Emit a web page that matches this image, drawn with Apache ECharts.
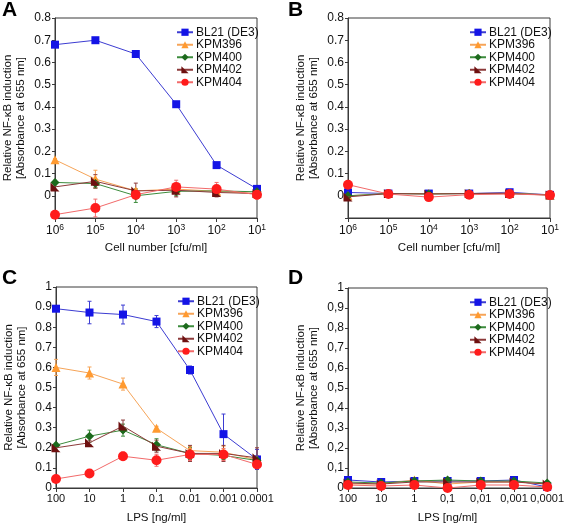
<!DOCTYPE html>
<html>
<head>
<meta charset="utf-8">
<script src="https://cdn.jsdelivr.net/npm/echarts@6/dist/echarts.min.js"></script>
<style>
html,body{margin:0;padding:0;background:#fff;}
#chart{width:567px;height:526px;}
</style>
</head>
<body>
<div id="chart"></div>
<script>
// ---------- data ----------
var seriesNames = ['BL21 (DE3)', 'KPM396', 'KPM400', 'KPM402', 'KPM404'];
var cellExponents = ['6', '5', '4', '3', '2', '1'];
var lpsLabelsC = ['100', '10', '1', '0.1', '0.01', '0.001', '0.0001'];
var lpsLabelsD = ['100', '10', '1', '0,1', '0,01', '0,001', '0,0001'];

// Panel A (cell number)
var aBL21   = [0.68, 0.70, 0.638, 0.412, 0.138, 0.031];
var aKPM396 = [0.162, 0.075, 0.022, 0.030, 0.020, 0.010];
var aKPM400 = [0.060, 0.055, 0.000, 0.020, 0.022, 0.018];
var aKPM402 = [0.040, 0.065, 0.022, 0.025, 0.015, 0.010];
var aKPM404 = [-0.085, -0.055, 0.005, 0.040, 0.030, 0.005];
var aErrBL21   = [0.01, 0.01, 0.005, 0.01, 0.005, 0.005];
var aErrKPM396 = [0.005, 0.04, 0.01, 0.02, 0.02, 0.01];
var aErrKPM400 = [0.01, 0.02, 0.03, 0.02, 0.01, 0.01];
var aErrKPM402 = [0.01, 0.03, 0.035, 0.03, 0.02, 0.01];
var aErrKPM404 = [0.01, 0.04, 0.02, 0.03, 0.03, 0.02];

// Panel B (cell number)
var bBL21   = [0.015, 0.010, 0.010, 0.010, 0.016, 0.004];
var bKPM396 = [0.000, 0.010, 0.010, 0.010, 0.012, 0.004];
var bKPM400 = [0.000, 0.010, 0.008, 0.010, 0.010, 0.004];
var bKPM402 = [-0.005, 0.010, 0.008, 0.010, 0.010, 0.003];
var bKPM404 = [0.050, 0.008, -0.006, 0.005, 0.008, 0.003];

// Panel C (LPS)
var cBL21   = [0.892, 0.873, 0.863, 0.828, 0.587, 0.268, 0.142];
var cKPM396 = [0.600, 0.572, 0.517, 0.297, 0.186, 0.178, 0.140];
var cKPM400 = [0.213, 0.258, 0.288, 0.215, 0.172, 0.162, 0.137];
var cKPM402 = [0.200, 0.225, 0.308, 0.208, 0.172, 0.172, 0.150];
var cKPM404 = [0.045, 0.072, 0.158, 0.138, 0.167, 0.167, 0.117];
var cErrBL21   = [0.01, 0.056, 0.047, 0.03, 0.02, 0.10, 0.05];
var cErrKPM396 = [0.04, 0.03, 0.03, 0.01, 0.02, 0.03, 0.02];
var cErrKPM400 = [0.01, 0.03, 0.03, 0.03, 0.03, 0.02, 0.02];
var cErrKPM402 = [0.01, 0.01, 0.03, 0.03, 0.04, 0.04, 0.05];
var cErrKPM404 = [0.01, 0.01, 0.02, 0.03, 0.03, 0.03, 0.02];

// Panel D (LPS)
var dBL21   = [0.040, 0.030, 0.035, 0.035, 0.035, 0.040, 0.005];
var dKPM396 = [0.020, 0.020, 0.040, 0.020, 0.030, 0.030, 0.020];
var dKPM400 = [0.030, 0.025, 0.035, 0.040, 0.035, 0.035, 0.025];
var dKPM402 = [0.025, 0.020, 0.030, 0.030, 0.030, 0.030, 0.020];
var dKPM404 = [0.015, 0.010, 0.015, 0.000, 0.015, 0.015, 0.005];
var dErr    = [0.01, 0.01, 0.01, 0.01, 0.01, 0.01, 0.01];

// ---------- styles ----------
var FONT = 'Liberation Sans, Arial, sans-serif';
var styles = [
  {marker: '#1414e6', line: '#3c3cd2', symbol: 'rect', size: 8},
  {marker: '#ff9a30', line: '#f6a458', symbol: 'triangle', size: 9},
  {marker: '#1d6a1d', line: '#3d8c3d', symbol: 'diamond', size: 9},
  {marker: '#6e1010', line: '#8c3a3a', symbol: 'path://M0,0 L0,10 L10,10 Z', size: 9},
  {marker: '#ff1c1c', line: '#f26a6a', symbol: 'circle', size: 10}
];

var panels = [
  {data: [aBL21, aKPM396, aKPM400, aKPM402, aKPM404],
   err: [aErrBL21, aErrKPM396, aErrKPM400, aErrKPM402, aErrKPM404],
   grid: {left: 55, top: 18, width: 202, height: 200},
   ymin: -0.1, ymax: 0.8, xmax: 5, xname: 'Cell number [cfu/ml]', kind: 'cell', comma: false},
  {data: [bBL21, bKPM396, bKPM400, bKPM402, bKPM404],
   err: null,
   grid: {left: 348, top: 18, width: 202, height: 200},
   ymin: -0.1, ymax: 0.8, xmax: 5, xname: 'Cell number [cfu/ml]', kind: 'cell', comma: false},
  {data: [cBL21, cKPM396, cKPM400, cKPM402, cKPM404],
   err: [cErrBL21, cErrKPM396, cErrKPM400, cErrKPM402, cErrKPM404],
   grid: {left: 56, top: 287, width: 201, height: 201},
   ymin: 0, ymax: 1, xmax: 6, xname: 'LPS [ng/ml]', kind: 'lps', labels: lpsLabelsC, comma: false},
  {data: [dBL21, dKPM396, dKPM400, dKPM402, dKPM404],
   err: [dErr, dErr, dErr, dErr, dErr],
   grid: {left: 348, top: 288, width: 202, height: 200},
   ymin: 0, ymax: 1, xmax: 6, xname: 'LPS [ng/ml]', kind: 'lps', labels: lpsLabelsD, comma: true}
];

var grids = [], xAxes = [], yAxes = [], series = [], legends = [];
var axisColor = '#3a3a3a';

panels.forEach(function (p, pi) {
  grids.push(Object.assign({show: true, borderColor: axisColor, borderWidth: 1, backgroundColor: 'transparent'}, p.grid));
  xAxes.push({
    gridIndex: pi, type: 'value', min: 0, max: p.xmax, interval: 1,
    position: 'bottom',
    axisLine: {onZero: false, lineStyle: {color: axisColor, width: 1}},
    axisTick: {show: true, inside: false, length: 4, lineStyle: {color: axisColor}},
    splitLine: {show: false},
    axisLabel: {
      color: '#111', fontFamily: FONT, fontSize: p.kind === 'cell' ? 12 : 11, margin: 5,
      showMinLabel: true, showMaxLabel: true, hideOverlap: false, interval: 0,
      formatter: (function (pp) {
        return function (v) {
          var i = Math.round(v);
          if (pp.kind === 'cell') return '10{sup|' + cellExponents[i] + '}';
          return pp.labels[i];
        };
      })(p),
      rich: {sup: {fontSize: 8.5, fontFamily: FONT, color: '#111', padding: [0, 0, 7, 0]}}
    },
    name: p.xname, nameLocation: 'middle', nameGap: 24,
    nameTextStyle: {color: '#111', fontFamily: FONT, fontSize: 11.5}
  });
  yAxes.push({
    gridIndex: pi, type: 'value', min: p.ymin, max: p.ymax, interval: 0.1,
    axisLine: {show: true, onZero: false, lineStyle: {color: axisColor, width: 1}},
    axisTick: {show: true, inside: false, length: 3, lineStyle: {color: axisColor}},
    splitLine: {show: false},
    axisLabel: {
      color: '#111', fontFamily: FONT, fontSize: 12, margin: 4,
      showMinLabel: true, showMaxLabel: true, hideOverlap: false,
      formatter: (function (pp) {
        return function (v) {
          if (v < -1e-9) return '';
          var s = String(Math.round(v * 10) / 10);
          return pp.comma ? s.replace('.', ',') : s;
        };
      })(p)
    },
    name: 'Relative NF-\u03baB induction\n[Absorbance at 655 nm]',
    nameLocation: 'middle', nameRotate: 90, nameGap: 28,
    nameTextStyle: {color: '#111', fontFamily: FONT, fontSize: 11.5, lineHeight: 13}
  });

  // error bars
  if (p.err) {
    p.data.forEach(function (arr, si) {
      var errArr = p.err[si];
      var st = styles[si];
      series.push({
        type: 'custom', name: 'err-' + pi + '-' + si,
        xAxisIndex: pi, yAxisIndex: pi, z: 1, silent: true,
        data: arr.map(function (v, i) { return [i, v, errArr[i]]; }),
        renderItem: function (params, api) {
          var x = api.value(0), y = api.value(1), e = api.value(2);
          var top = api.coord([x, y + e]);
          var bot = api.coord([x, y - e]);
          var cw = 2;
          var ls = {stroke: st.line, lineWidth: 1};
          return {type: 'group', children: [
            {type: 'line', shape: {x1: top[0], y1: top[1], x2: bot[0], y2: bot[1]}, style: ls},
            {type: 'line', shape: {x1: top[0] - cw, y1: top[1], x2: top[0] + cw, y2: top[1]}, style: ls},
            {type: 'line', shape: {x1: bot[0] - cw, y1: bot[1], x2: bot[0] + cw, y2: bot[1]}, style: ls}
          ]};
        }
      });
    });
  }

  p.data.forEach(function (arr, si) {
    var st = styles[si];
    series.push({
      type: 'line', name: seriesNames[si],
      xAxisIndex: pi, yAxisIndex: pi, z: 2 + si,
      data: arr.map(function (v, i) { return [i, v]; }),
      symbol: st.symbol, symbolSize: st.size, showSymbol: true,
      lineStyle: {color: st.line, width: 1},
      itemStyle: {color: st.marker, borderWidth: 0},
      emphasis: {disabled: true},
      animation: false, clip: false
    });
  });

  legends.push({
    orient: 'vertical',
    left: p.grid.left + 116, top: p.grid.top + 3,
    itemWidth: 16, itemHeight: 9, itemGap: 0,
    data: seriesNames,
    selectedMode: false,
    textStyle: {color: '#111', fontFamily: FONT, fontSize: 12, lineHeight: 12.5, padding: [0, 0, 0, -2]},
    backgroundColor: 'transparent'
  });
});

var chart = echarts.init(document.getElementById('chart'), null, {renderer: 'canvas'});
chart.setOption({
  animation: false,
  backgroundColor: '#fff',
  grid: grids, xAxis: xAxes, yAxis: yAxes, series: series, legend: legends,
  graphic: [
    {type: 'text', left: 2, top: 0, style: {text: 'A', fontFamily: FONT, fontWeight: 'bold', fontSize: 21, fill: '#000'}},
    {type: 'text', left: 288, top: 0, style: {text: 'B', fontFamily: FONT, fontWeight: 'bold', fontSize: 21, fill: '#000'}},
    {type: 'text', left: 2, top: 268, style: {text: 'C', fontFamily: FONT, fontWeight: 'bold', fontSize: 21, fill: '#000'}},
    {type: 'text', left: 288, top: 268, style: {text: 'D', fontFamily: FONT, fontWeight: 'bold', fontSize: 21, fill: '#000'}}
  ]
});
</script>
</body>
</html>
